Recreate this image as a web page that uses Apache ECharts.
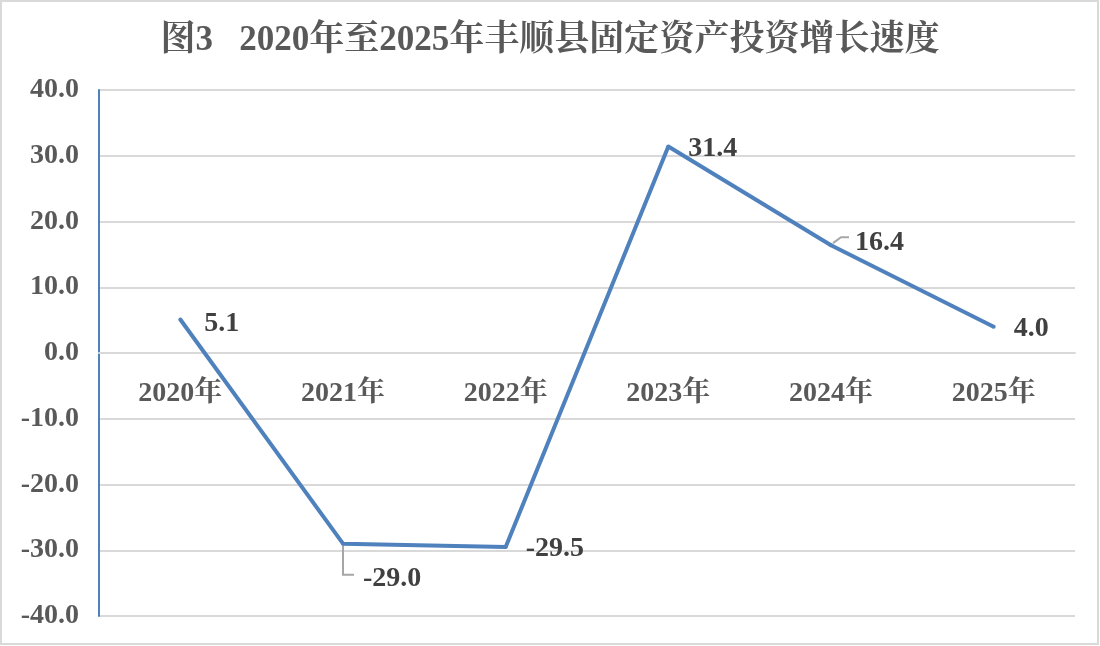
<!DOCTYPE html>
<html>
<head>
<meta charset="utf-8">
<style>
html,body{margin:0;padding:0;background:#fff;}
#c{width:1100px;height:646px;}
</style>
<script src="https://cdn.jsdelivr.net/npm/echarts@6/dist/echarts.min.js"></script>
</head>
<body>
<div id="c"></div>
<script>
var titleText = '图3   2020年至2025年丰顺县固定资产投资增长速度';
var categories = ['2020年','2021年','2022年','2023年','2024年','2025年'];
var growth = [5.1, -29.0, -29.5, 31.4, 16.4, 4.0];
var yTicks = {min: -40, max: 40, interval: 10};

var FONT = "'Liberation Serif','Times New Roman','Noto Serif CJK SC','Noto Sans CJK SC',serif";
var chart = echarts.init(document.getElementById('c'));
var option = {
  backgroundColor: '#fff',
  animation: false,
  title: {
    text: titleText, left: 'center', top: 23, padding: 0,
    textStyle: {fontFamily: FONT, fontSize: 35, fontWeight: 'bold', color: '#595959'}
  },
  grid: {left: 99, right: 25, top: 90, bottom: 30, containLabel: false, outerBoundsMode: 'none'},
  xAxis: {
    type: 'category', data: categories, boundaryGap: true,
    axisLine: {show: true, onZero: false, lineStyle: {color: '#d9d9d9', width: 2}},
    axisTick: {show: false},
    axisLabel: {margin: 27, fontFamily: FONT, fontSize: 28, fontWeight: 'bold', color: '#595959'},
    splitLine: {show: false}
  },
  yAxis: {
    type: 'value', min: yTicks.min, max: yTicks.max, interval: yTicks.interval,
    axisLine: {show: true, onZero: false, lineStyle: {color: '#4f81bd', width: 2}},
    axisTick: {show: false},
    axisLabel: {margin: 20, padding: [4, 0, 0, 0], fontFamily: FONT, fontSize: 28, fontWeight: 'bold', color: '#595959',
      formatter: function (v) { return v.toFixed(1); }},
    splitLine: {show: true, lineStyle: {color: '#d9d9d9', width: 2}}
  },
  series: [{
    type: 'line',
    data: growth,
    showSymbol: true, symbol: 'circle', symbolSize: 4,
    itemStyle: {color: '#4f81bd'},
    lineStyle: {color: '#4f81bd', width: 4},
    label: {
      show: true, position: 'right', distance: 18,
      fontFamily: FONT, fontSize: 28, fontWeight: 'bold', color: '#404040',
      formatter: function (p) { return p.value.toFixed(1); }
    },
    labelLayout: function (p) {
      if (p.dataIndex === 1) return {dx: 0, dy: 35};
      if (p.dataIndex === 4) return {dx: 4, dy: -2};
      if (p.dataIndex === 0) return {dx: 4, dy: 4};
      return {dy: 2};
    }
  }]
};
chart.setOption(option);

// place the category axis on the zero line, using the library's own scales
var zero = chart.convertToPixel({yAxisIndex: 0}, 0);
var bottomY = chart.convertToPixel({yAxisIndex: 0}, yTicks.min);
var p1 = chart.convertToPixel({seriesIndex: 0}, [1, growth[1]]);
var p4 = chart.convertToPixel({seriesIndex: 0}, [4, growth[4]]);
chart.setOption({
  xAxis: {offset: zero - bottomY},
  graphic: [
    {type: 'rect', silent: true, shape: {x: 1, y: 1, width: 1097, height: 643},
     style: {fill: 'none', stroke: '#d9d9d9', lineWidth: 2}},
    {type: 'polyline', silent: true, z: 1,
     shape: {points: [[p1[0], p1[1] + 2], [p1[0], p1[1] + 31], [p1[0] + 11, p1[1] + 31]]},
     style: {fill: 'none', stroke: '#a6a6a6', lineWidth: 2}},
    {type: 'polyline', silent: true, z: 1,
     shape: {points: [[p4[0] + 2, p4[1] - 2], [p4[0] + 10, p4[1] - 8], [p4[0] + 18, p4[1] - 8]]},
     style: {fill: 'none', stroke: '#a6a6a6', lineWidth: 2}}
  ]
});
</script>
</body>
</html>
